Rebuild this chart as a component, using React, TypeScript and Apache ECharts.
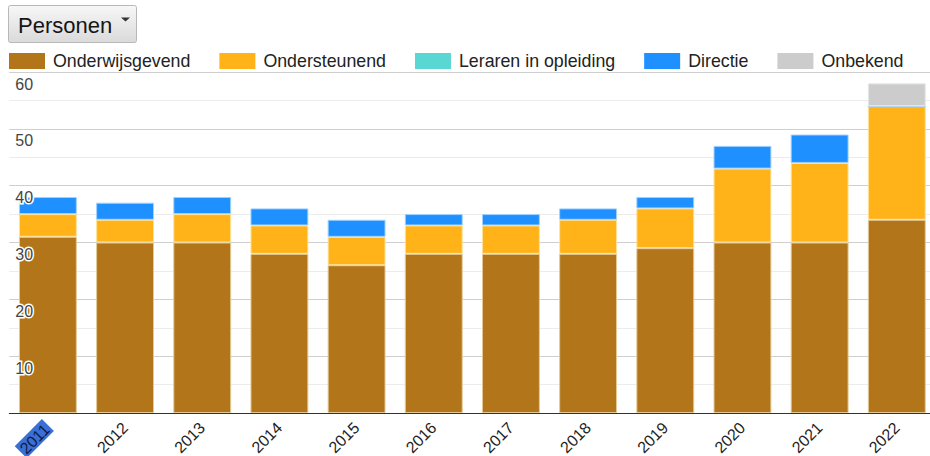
import React, { useEffect, useRef } from "react";
import * as echarts from "echarts";

const years = ["2011", "2012", "2013", "2014", "2015", "2016", "2017", "2018", "2019", "2020", "2021", "2022"];
const onderwijsgevend = [31, 30, 30, 28, 26, 28, 28, 28, 29, 30, 30, 34];
const ondersteunend = [4, 4, 5, 5, 5, 5, 5, 6, 7, 13, 14, 20];
const leraren = [null, null, null, null, null, null, null, null, null, null, null, null];
const directie = [3, 3, 3, 3, 3, 2, 2, 2, 2, 4, 5, 0];
const onbekend = [null, null, null, null, null, null, null, null, null, null, null, 4];
const yTicks = { min: 0, max: 60, interval: 10 };

const FONT = "'Liberation Sans', Arial, sans-serif";

const seriesDefs = [
  { name: "Onderwijsgevend", data: onderwijsgevend, color: "#b2751a", border: "#e3c995" },
  { name: "Ondersteunend", data: ondersteunend, color: "#ffb319", border: "#ffe29a" },
  { name: "Leraren in opleiding", data: leraren, color: "#5ad7d3", border: "#b5eeec" },
  { name: "Directie", data: directie, color: "#1e90ff", border: "#9fd0ff" },
  { name: "Onbekend", data: onbekend, color: "#cccccc", border: "#e8e8e8" },
];

export default function App() {
  const ref = useRef<HTMLDivElement>(null);
  useEffect(() => {
    if (!ref.current) return;
    const chart = echarts.init(ref.current, null, { renderer: "svg" });
    chart.setOption({
      animation: false,
      textStyle: { fontFamily: FONT },
      grid: { left: 9.3, right: -5.4, top: 72, bottom: 43, containLabel: false, outerBoundsMode: "none" },
      legend: {
        left: 9,
        top: 52,
        padding: 0,
        itemWidth: 36,
        itemHeight: 16,
        itemGap: 29,
        icon: "rect",
        itemStyle: { borderWidth: 0 },
        textStyle: { fontSize: 17.8, color: "#222", padding: [0, 0, 0, 3], lineHeight: 16, fontFamily: FONT },
        data: seriesDefs.map((s) => s.name),
      },
      xAxis: {
        type: "category",
        data: years,
        axisLine: { show: true, lineStyle: { color: "#333", width: 1 } },
        axisTick: { show: false },
        axisLabel: {
          interval: 0,
          rotate: 45,
          margin: 12,
          fontSize: 16,
          lineHeight: 14,
          color: "#222",
          fontFamily: FONT,
          formatter: (v: string, i: number) => (i === 0 ? `{hl|${v}}` : v),
          rich: {
            hl: { backgroundColor: "#3a6fd6", color: "#111a40", fontSize: 16, lineHeight: 14, padding: [1, 2, 0, 2], fontFamily: FONT },
          },
        },
      },
      yAxis: [
        {
          type: "value",
          min: yTicks.min,
          max: yTicks.max,
          interval: yTicks.interval,
          axisLine: { show: false },
          axisTick: { show: false },
          axisLabel: { show: false },
          splitLine: { show: true, lineStyle: { color: "#cfcfcf", width: 1 } },
          minorTick: { show: false, splitNumber: 2 },
          minorSplitLine: { show: true, lineStyle: { color: "#ececec", width: 1 } },
          z: 0,
        },
        {
          type: "value",
          min: yTicks.min,
          max: yTicks.max,
          interval: yTicks.interval,
          position: "left",
          axisLine: { show: false },
          axisTick: { show: false },
          splitLine: { show: false },
          z: 10,
          axisLabel: {
            inside: true,
            margin: 6,
            fontSize: 16,
            color: "#444",
            fontFamily: FONT,
            textBorderColor: "#fff",
            textBorderWidth: 3,
            verticalAlign: "top",
            lineHeight: 24,
            formatter: (v: number) => (v === 0 ? "" : String(v)),
          },
        },
      ],
      series: seriesDefs.map((s) => ({
        name: s.name,
        type: "bar",
        stack: "total",
        barWidth: "75%",
        yAxisIndex: 0,
        data: s.data,
        itemStyle: { color: s.color, borderColor: s.border, borderWidth: 1 },
        emphasis: { disabled: true },
      })),
      graphic: [
        {
          type: "rect",
          shape: { x: 8.5, y: 5.5, width: 128, height: 37, r: 2 },
          style: {
            fill: new echarts.graphic.LinearGradient(0, 0, 0, 1, [
              { offset: 0, color: "#f7f7f7" },
              { offset: 1, color: "#dadada" },
            ]),
            stroke: "#b8b8b8",
            lineWidth: 1,
          },
        },
        {
          type: "text",
          x: 18,
          y: 25,
          style: { text: "Personen", fontSize: 22, fill: "#151515", fontFamily: FONT, verticalAlign: "middle" },
        },
        {
          type: "polygon",
          shape: { points: [[121, 17.5], [130, 17.5], [125.5, 21.5]] },
          style: { fill: "#333" },
        },
      ],
    });
    return () => chart.dispose();
  }, []);
  return <div ref={ref} style={{ position: "absolute", left: 0, top: 0, width: 930, height: 456 }} />;
}
